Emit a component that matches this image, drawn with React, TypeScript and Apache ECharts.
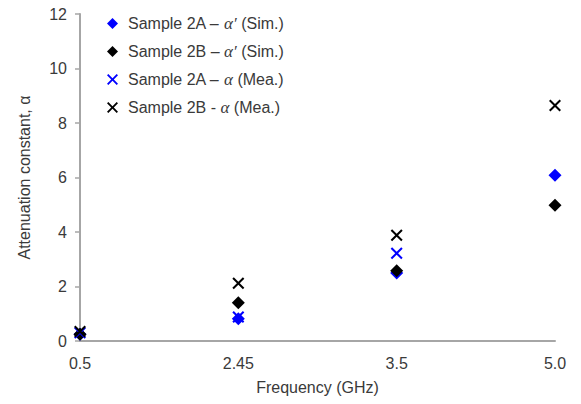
import React, { useEffect, useRef } from "react";
import * as echarts from "echarts";

const categories = ["0.5", "2.45", "3.5", "5.0"];
const sample2ASim = [0.25, 0.82, 2.5, 6.08];
const sample2BSim = [0.25, 1.4, 2.58, 4.98];
const sample2AMea = [0.3, 0.88, 3.22, null];
const sample2BMea = [0.35, 2.12, 3.88, 8.64];
const yTicks = { min: 0, max: 12, interval: 2 };

const CROSS =
  "path://M0,1.2L1.2,0L5,3.8L8.8,0L10,1.2L6.2,5L10,8.8L8.8,10L5,6.2L1.2,10L0,8.8L3.8,5Z";

const FONT = "Liberation Sans, Arial, sans-serif";
const TEXT = "#3a3a3a";

export default function App() {
  const ref = useRef<HTMLDivElement>(null);
  useEffect(() => {
    if (!ref.current) return;
    const chart = echarts.init(ref.current, null, { renderer: "svg" });
    const rich = {
      s: { width: 5 },
      a: { fontFamily: FONT, fontSize: 16, color: TEXT, lineHeight: 18 },
      i: { fontFamily: "Liberation Serif, serif", fontStyle: "italic", fontSize: 17, color: TEXT, lineHeight: 18 },
    };
    const legendNames: Record<string, string> = {
      "Sample 2A – α′ (Sim.)": "{s|}{a|Sample 2A – }{i|α′}{a| (Sim.)}",
      "Sample 2B – α′ (Sim.)": "{s|}{a|Sample 2B – }{i|α′}{a| (Sim.)}",
      "Sample 2A – α (Mea.)": "{s|}{a|Sample 2A – }{i|α}{a| (Mea.)}",
      "Sample 2B - α (Mea.)": "{s|}{a|Sample 2B - }{i|α}{a| (Mea.)}",
    };
    chart.setOption({
      animation: false,
      backgroundColor: "#fff",
      grid: { left: 80, right: 26, top: 14, bottom: 63 },
      legend: {
        orient: "vertical",
        left: 107,
        top: 15,
        padding: 0,
        itemGap: 11,
        itemWidth: 11,
        itemHeight: 11,
        formatter: (n: string) => legendNames[n] || n,
        textStyle: { rich, fontFamily: FONT, fontSize: 16, color: TEXT },
        data: Object.keys(legendNames),
      },
      xAxis: {
        type: "category",
        data: categories,
        boundaryGap: false,
        name: "Frequency (GHz)",
        nameLocation: "middle",
        nameGap: 38,
        nameTextStyle: { fontFamily: FONT, fontSize: 16, color: TEXT },
        axisLine: { lineStyle: { color: "#a6a6a6", width: 2 } },
        axisTick: { show: false },
        axisLabel: { fontFamily: FONT, fontSize: 16, color: TEXT, margin: 14 },
        splitLine: { show: false },
      },
      yAxis: {
        type: "value",
        min: yTicks.min,
        max: yTicks.max,
        interval: yTicks.interval,
        name: "Attenuation constant, α",
        nameLocation: "middle",
        nameGap: 48,
        nameTextStyle: { fontFamily: FONT, fontSize: 16, color: TEXT },
        axisLine: { show: true, lineStyle: { color: "#a6a6a6", width: 2 } },
        axisTick: { show: true, length: 5, lineStyle: { color: "#a6a6a6", width: 1.5 } },
        axisLabel: { fontFamily: FONT, fontSize: 16, color: TEXT, margin: 13 },
        splitLine: { show: false },
      },
      series: [
        {
          name: "Sample 2A – α′ (Sim.)",
          type: "scatter",
          data: sample2ASim,
          symbol: "diamond",
          symbolSize: 13,
          itemStyle: { color: "#0000ff", opacity: 1 },
        },
        {
          name: "Sample 2B – α′ (Sim.)",
          type: "scatter",
          data: sample2BSim,
          symbol: "diamond",
          symbolSize: 13,
          itemStyle: { color: "#000", opacity: 1 },
        },
        {
          name: "Sample 2A – α (Mea.)",
          type: "scatter",
          data: sample2AMea,
          symbol: CROSS,
          symbolSize: 12,
          itemStyle: { color: "#0000ff", opacity: 1 },
        },
        {
          name: "Sample 2B - α (Mea.)",
          type: "scatter",
          data: sample2BMea,
          symbol: CROSS,
          symbolSize: 12,
          itemStyle: { color: "#000", opacity: 1 },
        },
      ],
    });
    return () => chart.dispose();
  }, []);
  return (
    <div
      ref={ref}
      style={{ position: "absolute", left: 0, top: 0, width: 581, height: 404 }}
    />
  );
}
